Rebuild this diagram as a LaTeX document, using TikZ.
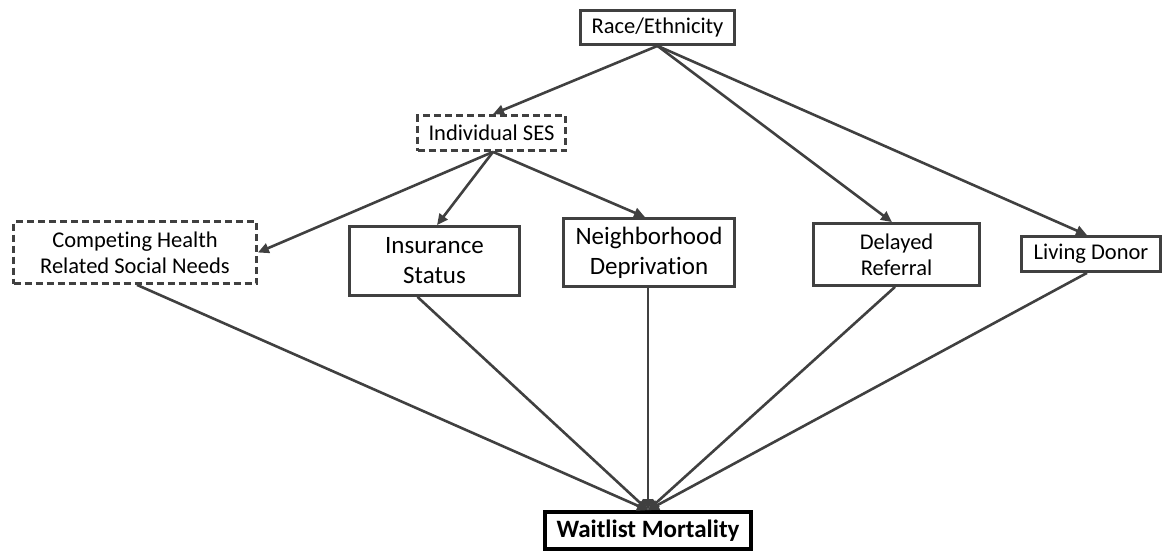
\documentclass[tikz,border=0pt]{standalone}
\usepackage{fontspec}
\setmainfont{Carlito}[Ligatures=NoCommon]
\usetikzlibrary{arrows.meta}
\definecolor{ln}{HTML}{404040}
\tikzset{
  box/.style={draw=ln, line width=2.8pt, fill=white, align=center, inner sep=0pt,
    font=\fontsize{22.5}{26}\selectfont, text=black},
  dbox/.style={box, dash pattern=on 7pt off 4pt},
  bigbox/.style={box, font=\fontsize{25}{30}\selectfont},
  wbox/.style={box, line width=3.6pt, draw=black, font=\fontsize{25}{30}\selectfont\bfseries},
  conn/.style={draw=ln, line width=2.6pt, -{Triangle[length=11pt,width=10pt]}},
}
\begin{document}
\begin{tikzpicture}[x=1pt,y=-1pt]
\useasboundingbox (0,0) rectangle (1165,555);
\node[box, minimum width=154pt, minimum height=34pt] (race) at (657.5,27.5) {Race/Ethnicity};
\node[dbox, minimum width=148pt, minimum height=35pt] (ses) at (491.5,133) {Individual SES};
\node[dbox, minimum width=243pt, minimum height=62pt] (comp) at (135,252.5) {Competing Health\\Related Social Needs};
\node[bigbox, minimum width=170pt, minimum height=69pt] (ins) at (434.5,261) {Insurance\\Status};
\node[bigbox, minimum width=171pt, minimum height=68pt] (nbh) at (649,252.5) {Neighborhood\\Deprivation};
\node[box, minimum width=166pt, minimum height=62pt] (del) at (896.5,254.5) {Delayed\\Referral};
\node[box, minimum width=139pt, minimum height=35pt] (liv) at (1091,254) {Living Donor};
\node[wbox, minimum width=206pt, minimum height=37pt] (wm) at (648,530.5) {Waitlist Mortality};

\draw[conn] (race.south) -- ([xshift=1.5pt]ses.north);
\draw[conn] (race.south) -- ([xshift=-4.5pt]del.north);
\draw[conn] (race.south) -- ([xshift=-4pt]liv.north);
\draw[conn] ([xshift=1.5pt]ses.south) -- (comp.east);
\draw[conn] ([xshift=1.5pt]ses.south) -- ([xshift=2.5pt]ins.north);
\draw[conn] ([xshift=1.5pt]ses.south) -- ([xshift=-4pt]nbh.north);
\draw[conn] ([xshift=2pt]comp.south) -- (wm.north);
\draw[conn] ([xshift=-17pt]ins.south) -- (wm.north);
\draw[conn] ([xshift=-1pt]nbh.south) -- (wm.north);
\draw[conn] ([xshift=-1.5pt]del.south) -- (wm.north);
\draw[conn] ([xshift=-4pt]liv.south) -- (wm.north);
\end{tikzpicture}
\end{document}
